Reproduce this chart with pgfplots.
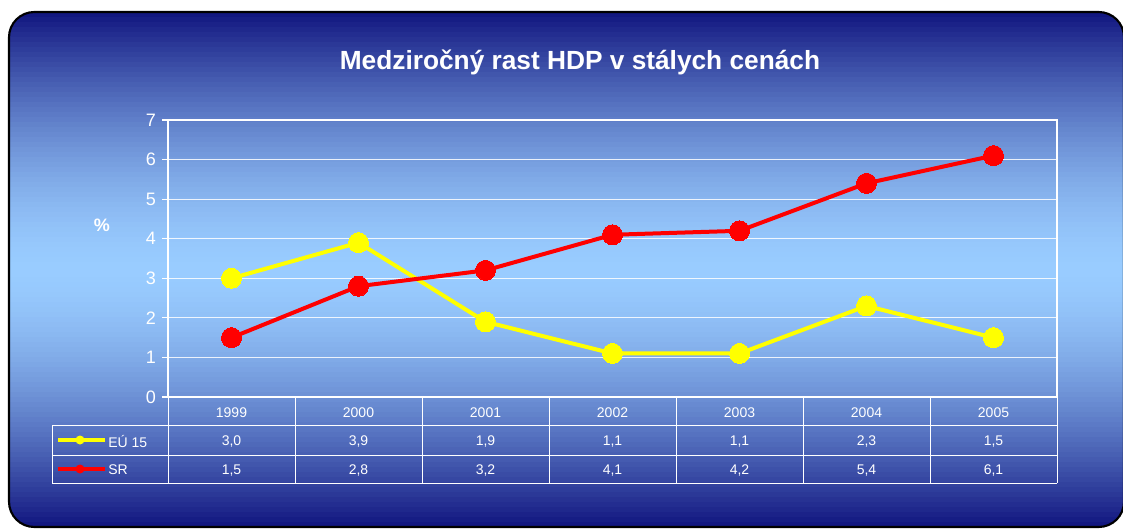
\documentclass[border=0pt]{standalone}
\usepackage{pgfplots}
\pgfplotsset{compat=1.18}
\usepackage{pgfplotstable}
\usepackage{fontspec}
\setmainfont{Liberation Sans}

\definecolor{navy}{RGB}{16,20,126}
\definecolor{sky}{RGB}{153,204,255}
\definecolor{euyellow}{RGB}{255,255,0}
\definecolor{srred}{RGB}{255,0,0}

% medzirocny rast HDP (%)
\pgfplotstableread{
x year eu  sr
0 1999 3.0 1.5
1 2000 3.9 2.8
2 2001 1.9 3.2
3 2002 1.1 4.1
4 2003 1.1 4.2
5 2004 2.3 5.4
6 2005 1.5 6.1
}\hdp

\newcommand{\tabfont}{\fontsize{10.5}{12}\selectfont}

\begin{document}
\begin{tikzpicture}
% 1 px = 0.75pt
\begin{scope}[x=0.75pt,y=0.75pt]
\fill[white] (0,0) rectangle (1123,529);
\useasboundingbox (0,0) rectangle (1123,529);

% pozadie s prechodom
\begin{scope}
  \clip[rounded corners=19pt] (9,2) rectangle (1124,517);
  \foreach \i in {0,...,102} {
    \pgfmathsetmacro\ya{2+\i*5}
    \pgfmathsetmacro\yb{\ya+5.6}
    \pgfmathsetmacro\p{100*(1-abs(2*(\i+0.5)/103-1)^1.6)}
    \fill[sky!\p!navy] (9,\ya) rectangle (1124,\yb);
  }
\end{scope}
\draw[black, line width=1.6pt, rounded corners=19pt] (9,2) rectangle (1124,517);

\node[white, font=\bfseries\fontsize{19.7}{23}\selectfont] at (580,467)
  {Medziročný rast HDP v stálych cenách};
\node[white, font=\bfseries\fontsize{13.5}{16}\selectfont] at (102,304) {\%};
\end{scope}

\begin{axis}[
  at={(126pt,99pt)}, anchor=south west,
  scale only axis, width=666.75pt, height=207.75pt,
  xmin=-0.5, xmax=6.5, ymin=0, ymax=7,
  ytick={0,1,...,7},
  xtick=data,
  xticklabels from table={\hdp}{year},
  clip=false,
  axis line style={white, line width=1.1pt},
  ymajorgrids, grid style={white, line width=0.7pt, opacity=0.85},
  tick align=outside,
  ytick pos=left,
  ytick style={white, line width=0.8pt},
  major tick length=4.5pt,
  xtick style={draw=none},
  yticklabel style={white, font=\fontsize{13.5}{16}\selectfont, xshift=-1pt},
  xticklabel style={white, font=\tabfont, anchor=center, yshift=-7.5pt},
  /pgf/number format/assume math mode=true,
]
\addplot[euyellow, line width=3pt, mark=*, mark size=7.5pt,
  mark options={fill=euyellow, draw=euyellow, line width=0pt}]
  table[x=x, y=eu] {\hdp};
\addplot[srred, line width=3pt, mark=*, mark size=7.5pt,
  mark options={fill=srred, draw=srred, line width=0pt}]
  table[x=x, y=sr] {\hdp};

% hodnoty v tabulke pod grafom
\addplot[draw=none, mark=none, point meta=explicit,
  nodes near coords={\pgfmathprintnumber[fixed,fixed zerofill,precision=1,use comma,assume math mode=true]{\pgfplotspointmeta}},
  nodes near coords style={white, anchor=center, font=\tabfont}]
  table[x=x, y expr=-1.13, meta=eu] {\hdp};
\addplot[draw=none, mark=none, point meta=explicit,
  nodes near coords={\pgfmathprintnumber[fixed,fixed zerofill,precision=1,use comma,assume math mode=true]{\pgfplotspointmeta}},
  nodes near coords style={white, anchor=center, font=\tabfont}]
  table[x=x, y expr=-1.87, meta=sr] {\hdp};
\end{axis}

\begin{scope}[x=0.75pt,y=0.75pt]
% mriezka tabulky
\begin{scope}[white, line width=0.75pt]
  \foreach \yy in {104,74,46} \draw (52,\yy) -- (1057,\yy);
  \draw (52,104) -- (52,46);
  \foreach \xx in {168,295,422,549,676,803,930,1057} \draw (\xx,132) -- (\xx,46);
\end{scope}

% legenda
\draw[euyellow, line width=2.3pt] (58,89) -- (105,89);
\fill[euyellow] (80,89) circle (4.5);
\node[white, font=\tabfont, anchor=west, inner sep=0pt] at (108,88) {EÚ 15};
\draw[srred, line width=2.3pt] (58,60) -- (105,60);
\fill[srred] (80,60) circle (4.5);
\node[white, font=\tabfont, anchor=west, inner sep=0pt] at (108,59) {SR};
\end{scope}
\end{tikzpicture}
\end{document}
